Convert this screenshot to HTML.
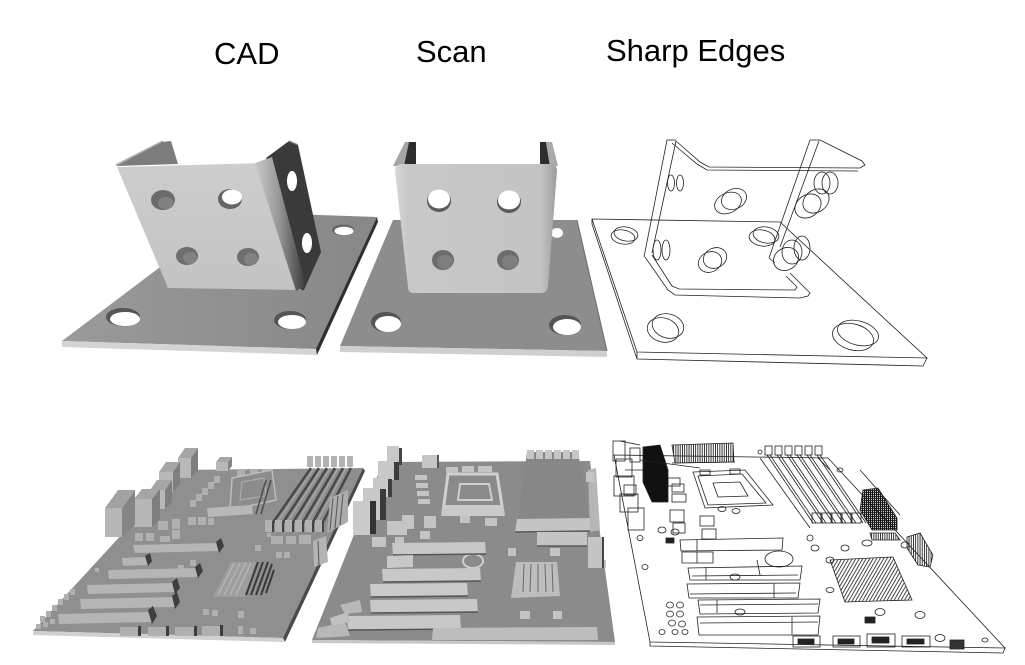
<!DOCTYPE html>
<html><head><meta charset="utf-8">
<style>html,body{margin:0;padding:0;background:#fff}svg{display:block}</style>
</head><body>
<svg xmlns="http://www.w3.org/2000/svg" width="1025" height="665" viewBox="0 0 1025 665">
<defs>
<linearGradient id="gPlate" x1="0" y1="0" x2="1" y2="0"><stop offset="0" stop-color="#9a9a9a"/><stop offset="1" stop-color="#878787"/></linearGradient>
<linearGradient id="gBend" x1="0" y1="0" x2="1" y2="0"><stop offset="0" stop-color="#c9c9c9"/><stop offset="0.45" stop-color="#9a9a9a"/><stop offset="1" stop-color="#3a3a3a"/></linearGradient>
<linearGradient id="gFront" x1="0" y1="0" x2="0" y2="1"><stop offset="0" stop-color="#cdcdcd"/><stop offset="1" stop-color="#c3c3c3"/></linearGradient>
<linearGradient id="gScanF" x1="0" y1="0" x2="1" y2="0"><stop offset="0" stop-color="#d6d6d6"/><stop offset="0.08" stop-color="#c8c8c8"/><stop offset="0.9" stop-color="#c4c4c4"/><stop offset="1" stop-color="#9c9c9c"/></linearGradient>
<pattern id="hv" width="2.2" height="6" patternUnits="userSpaceOnUse"><rect width="0.9" height="6" fill="#222"/></pattern>
<pattern id="hd" width="3" height="3" patternUnits="userSpaceOnUse" patternTransform="rotate(30)"><rect width="0.9" height="3" fill="#333"/></pattern>
<pattern id="hx" width="2" height="2" patternUnits="userSpaceOnUse"><rect width="1.2" height="2" fill="#111"/><rect width="2" height="0.8" fill="#111"/></pattern>
</defs>
<rect width="1025" height="665" fill="#fff"/>

<g font-family="'Liberation Sans', Arial, sans-serif" font-size="31" fill="#000">
<text x="214" y="64">CAD</text>
<text x="416" y="62">Scan</text>
<text x="606" y="61">Sharp Edges</text>
</g>

<!-- CAD bracket -->
<polygon points="62,341 316,349 377,217 233,212" fill="url(#gPlate)"/>
<polygon points="62,341 316,349 317,355 62,347" fill="#d4d4d4"/>
<polygon points="316,349 377,217 378,222 317,355" fill="#2f2f2f"/>
<ellipse cx="123" cy="317" rx="17" ry="9" fill="#555"/>
<ellipse cx="125" cy="319" rx="15" ry="7" fill="#fff"/>
<ellipse cx="290" cy="320" rx="16" ry="9" fill="#555"/>
<ellipse cx="292" cy="322" rx="14" ry="7" fill="#fff"/>
<ellipse cx="343" cy="230" rx="11" ry="5.5" fill="#666"/>
<ellipse cx="344" cy="231" rx="9.5" ry="4.2" fill="#fff"/>
<polygon points="116,166 162,142 171,141 178,164" fill="#7c7c7c"/>
<line x1="116" y1="165" x2="163" y2="141" stroke="#a8a8a8" stroke-width="1.5"/>
<polygon points="266,158 289,141 298,145 321,252 304,290 296,290" fill="#3a3a3a"/>
<line x1="289" y1="141" x2="298" y2="145" stroke="#888" stroke-width="1.5"/>
<polygon points="117,167 262,163 301,290 168,288" fill="url(#gFront)"/>
<polygon points="255,163 272,157 306,286 296,291" fill="url(#gBend)"/>
<ellipse cx="163" cy="200" rx="12" ry="10" fill="#6b6b6b"/>
<ellipse cx="166" cy="203" rx="8" ry="6" fill="#808080"/>
<ellipse cx="230" cy="199" rx="12" ry="10" fill="#666"/>
<ellipse cx="232" cy="197" rx="10" ry="7.5" fill="#fff"/>
<ellipse cx="187" cy="256" rx="11" ry="9" fill="#6e6e6e"/>
<ellipse cx="190" cy="258" rx="7" ry="6" fill="#828282"/>
<ellipse cx="248" cy="257" rx="11" ry="9" fill="#6e6e6e"/>
<ellipse cx="251" cy="259" rx="7" ry="6" fill="#828282"/>
<ellipse cx="292" cy="181" rx="5" ry="10" fill="#fff"/>
<ellipse cx="307" cy="243" rx="5" ry="10" fill="#fff"/>

<!-- Scan bracket -->
<polygon points="340,346 607,351 577,220 393,220" fill="#8d8d8d"/>
<polygon points="340,346 607,351 607,357 340,352" fill="#cfcfcf"/>
<line x1="577" y1="220" x2="607" y2="351" stroke="#6a6a6a" stroke-width="1"/>
<ellipse cx="386" cy="322" rx="15" ry="10" fill="#555"/>
<ellipse cx="388" cy="324" rx="13" ry="8" fill="#fff"/>
<ellipse cx="565" cy="325" rx="16" ry="10" fill="#555"/>
<ellipse cx="567" cy="327" rx="14" ry="8" fill="#fff"/>
<ellipse cx="557" cy="233" rx="6" ry="5" fill="#fff"/>
<polygon points="393,166 405,142 410,142 404,166" fill="#a5a5a5"/>
<polygon points="409,142 416,142 416,166 404,166" fill="#2e2e2e"/>
<polygon points="540,142 546,142 550,166 540,166" fill="#2e2e2e"/>
<polygon points="546,142 552,142 558,166 550,166" fill="#aaaaaa"/>
<path d="M395,171 Q395,164 402,164 L551,164 Q557,164 557,171 L548,287 Q547,293 541,293 L414,293 Q408,293 408,287 Z" fill="url(#gScanF)"/>
<ellipse cx="439" cy="201" rx="12" ry="11" fill="#5a5a5a"/>
<ellipse cx="439" cy="199" rx="11" ry="9.5" fill="#fff"/>
<ellipse cx="509" cy="202" rx="12" ry="11" fill="#5a5a5a"/>
<ellipse cx="509" cy="200" rx="11" ry="9.5" fill="#fff"/>
<ellipse cx="443" cy="260" rx="11" ry="10" fill="#6c6c6c"/>
<ellipse cx="445" cy="262" rx="8" ry="7" fill="#7e7e7e"/>
<ellipse cx="508" cy="260" rx="11" ry="10" fill="#6c6c6c"/>
<ellipse cx="510" cy="262" rx="8" ry="7" fill="#7e7e7e"/>

<!-- Sharp edges bracket -->
<g fill="none" stroke="#222" stroke-width="0.8">
<polygon points="592,219 780,222 927,358 637,352"/>
<polyline points="592,219 592,224 637,359 923,366 927,358"/>
<line x1="637" y1="352" x2="637" y2="359"/>
<line x1="667" y1="140" x2="676" y2="140"/>
<line x1="667" y1="140" x2="644" y2="257"/>
<line x1="676" y1="141" x2="652" y2="253"/>
<polyline points="645,257 668,290 675,295 800,298 808,296 810,293 800,283 790,273"/>
<polyline points="652,255 672,286 679,289 795,290 797,287 786,276"/>
<polyline points="676,141 700,162 709,167 860,168 865,165 862,161 820,140"/>
<polyline points="672,143 697,164 707,170 858,171"/>
<line x1="810" y1="140" x2="820" y2="140"/>
<line x1="810" y1="140" x2="769" y2="258"/>
<line x1="819" y1="141" x2="780" y2="247"/>
<line x1="769" y1="258" x2="775" y2="263"/>
<ellipse cx="671" cy="183" rx="3.5" ry="8"/>
<ellipse cx="680" cy="183" rx="3.5" ry="8"/>
<ellipse cx="728" cy="203" rx="14" ry="10" transform="rotate(-25 728 203)"/>
<ellipse cx="734" cy="199" rx="13" ry="10" transform="rotate(-25 734 199)"/>
<ellipse cx="808" cy="206" rx="14" ry="11" transform="rotate(-35 808 206)"/>
<ellipse cx="816" cy="201" rx="14" ry="11" transform="rotate(-35 816 201)"/>
<ellipse cx="822" cy="183" rx="8" ry="11"/>
<ellipse cx="830" cy="183" rx="8" ry="11"/>
<ellipse cx="623" cy="237" rx="12" ry="7" transform="rotate(10 623 237)"/>
<ellipse cx="626" cy="234" rx="12" ry="7" transform="rotate(10 626 234)"/>
<ellipse cx="762" cy="238" rx="13" ry="8" transform="rotate(10 762 238)"/>
<ellipse cx="766" cy="235" rx="13" ry="8" transform="rotate(10 766 235)"/>
<ellipse cx="657" cy="250" rx="4" ry="10"/>
<ellipse cx="666" cy="250" rx="4" ry="10"/>
<ellipse cx="710" cy="262" rx="12" ry="10" transform="rotate(-25 710 262)"/>
<ellipse cx="715" cy="258" rx="12" ry="10" transform="rotate(-25 715 258)"/>
<ellipse cx="786" cy="259" rx="13" ry="11" transform="rotate(-30 786 259)"/>
<ellipse cx="792" cy="252" rx="10" ry="12"/>
<ellipse cx="802" cy="248" rx="8" ry="12"/>
<ellipse cx="663" cy="330" rx="16" ry="12" transform="rotate(15 663 330)"/>
<ellipse cx="668" cy="326" rx="16" ry="12" transform="rotate(15 668 326)"/>
<ellipse cx="853" cy="337" rx="21" ry="13" transform="rotate(15 853 337)"/>
<ellipse cx="858" cy="333" rx="21" ry="12" transform="rotate(15 858 333)"/>
</g>

<!-- CAD motherboard -->
<polygon points="33,631 283,638 363,468 181,470" fill="#8f8f8f"/>
<polygon points="33,631 283,638 284,642 33,635" fill="#d0d0d0"/>
<polygon points="283,638 363,468 365,471 285,642" fill="#4a4a4a"/>
<g>
<polygon points="216,462 220,457 232,457 228,462" fill="#a6a6a6"/><rect x="216" y="462" width="12" height="9" fill="#b8b8b8"/><polygon points="228,462 232,457 232,466 228,471" fill="#858585"/>
<polygon points="178,458 185,448 198,448 191,458" fill="#a6a6a6"/><rect x="178" y="458" width="13" height="20" fill="#b8b8b8"/><polygon points="191,458 198,448 198,470 191,478" fill="#7e7e7e"/>
<polygon points="159,472 166,462 180,462 173,472" fill="#a6a6a6"/><rect x="159" y="472" width="14" height="20" fill="#b8b8b8"/><polygon points="173,472 180,462 180,484 173,492" fill="#7e7e7e"/>
<polygon points="150,490 157,480 172,480 165,490" fill="#a6a6a6"/><rect x="150" y="490" width="15" height="19" fill="#b8b8b8"/><polygon points="165,490 172,480 172,502 165,509" fill="#7e7e7e"/>
<polygon points="134,499 142,489 160,489 152,499" fill="#a6a6a6"/><rect x="134" y="499" width="18" height="28" fill="#b6b6b6"/><polygon points="152,499 160,489 160,519 152,527" fill="#7e7e7e"/>
<polygon points="105,508 118,490 135,490 122,508" fill="#a2a2a2"/><rect x="105" y="508" width="17" height="29" fill="#b6b6b6"/><polygon points="122,508 135,490 135,525 122,537" fill="#858585"/>
</g>
<g fill="#b0b0b0">
<rect x="135" y="533" width="8" height="8"/><rect x="146" y="533" width="8" height="8"/><rect x="160" y="536" width="10" height="6"/><rect x="172" y="530" width="8" height="9"/>
<rect x="158" y="521" width="10" height="9"/><rect x="172" y="519" width="8" height="10"/>
<rect x="190" y="500" width="6" height="7"/><rect x="196" y="494" width="6" height="7"/><rect x="202" y="488" width="6" height="7"/><rect x="208" y="482" width="6" height="7"/><rect x="214" y="476" width="6" height="7"/>
<rect x="188" y="517" width="8" height="8"/><rect x="198" y="517" width="8" height="8"/><rect x="208" y="518" width="6" height="7"/>
<rect x="237" y="469" width="8" height="8"/><rect x="250" y="469" width="8" height="8"/><rect x="262" y="469" width="8" height="8"/>
<rect x="271" y="536" width="12" height="8"/><rect x="286" y="536" width="10" height="8"/><rect x="299" y="535" width="12" height="9"/>
<rect x="276" y="552" width="6" height="6"/><rect x="284" y="552" width="6" height="6"/>
<rect x="40" y="616" width="5" height="6"/><rect x="46" y="611" width="5" height="6"/><rect x="52" y="605" width="5" height="6"/><rect x="58" y="599" width="5" height="6"/><rect x="64" y="594" width="5" height="6"/><rect x="70" y="589" width="5" height="6"/>
<rect x="36" y="624" width="5" height="5"/><rect x="43" y="622" width="5" height="5"/><rect x="50" y="619" width="5" height="5"/>
<rect x="203" y="609" width="6" height="6"/><rect x="212" y="610" width="6" height="6"/><rect x="238" y="611" width="6" height="7"/>
<rect x="238" y="626" width="5" height="8"/><rect x="250" y="628" width="6" height="6"/><rect x="267" y="533" width="4" height="4"/>
<rect x="178" y="565" width="6" height="6"/><rect x="190" y="560" width="6" height="6"/><rect x="255" y="545" width="6" height="6"/><rect x="95" y="568" width="4" height="4"/>
</g>
<polygon points="232,478 272,470 276,500 230,510" fill="#8c8c8c" stroke="#bdbdbd" stroke-width="1.5"/>
<polygon points="242,482 264,478 266,496 240,500" fill="none" stroke="#b0b0b0" stroke-width="1"/>
<polygon points="207,508 252,505 253,514 208,517" fill="#b8b8b8"/>
<line x1="266" y1="480" x2="256" y2="514" stroke="#4c4c4c" stroke-width="1.5"/>
<line x1="271" y1="480" x2="261" y2="514" stroke="#4c4c4c" stroke-width="1.5"/>
<g>
<rect x="307" y="456" width="6" height="11" fill="#b4b4b4"/><rect x="315" y="456" width="6" height="11" fill="#b4b4b4"/><rect x="323" y="456" width="6" height="11" fill="#b4b4b4"/><rect x="331" y="456" width="6" height="11" fill="#b4b4b4"/><rect x="339" y="456" width="6" height="11" fill="#b4b4b4"/><rect x="347" y="456" width="6" height="11" fill="#b4b4b4"/>
<g stroke="#4a4a4a" stroke-width="2.6">
<line x1="311" y1="468" x2="272" y2="524"/><line x1="319" y1="468" x2="282" y2="524"/><line x1="327" y1="468" x2="292" y2="524"/><line x1="335" y1="468" x2="302" y2="524"/><line x1="343" y1="468" x2="312" y2="524"/><line x1="351" y1="468" x2="322" y2="524"/>
</g>
<g stroke="#a8a8a8" stroke-width="1.2">
<line x1="314" y1="468" x2="276" y2="524"/><line x1="322" y1="468" x2="286" y2="524"/><line x1="330" y1="468" x2="296" y2="524"/><line x1="338" y1="468" x2="306" y2="524"/><line x1="346" y1="468" x2="316" y2="524"/>
</g>
<g fill="#b2b2b2"><rect x="265" y="520" width="7" height="12"/><rect x="275" y="520" width="7" height="12"/><rect x="285" y="520" width="7" height="12"/><rect x="295" y="520" width="7" height="12"/><rect x="305" y="520" width="7" height="12"/><rect x="315" y="520" width="7" height="12"/></g>
<g fill="#444"><rect x="272" y="521" width="2" height="11"/><rect x="282" y="521" width="2" height="11"/><rect x="292" y="521" width="2" height="11"/><rect x="302" y="521" width="2" height="11"/><rect x="312" y="521" width="2" height="11"/><rect x="322" y="521" width="2" height="11"/></g>
</g>
<polygon points="330,498 348,490 348,522 327,533" fill="#adadad"/>
<g stroke="#555" stroke-width="1"><line x1="333" y1="498" x2="330" y2="530"/><line x1="338" y1="496" x2="335" y2="528"/><line x1="343" y1="494" x2="340" y2="525"/></g>
<polygon points="313,541 326,536 328,562 314,567" fill="#b4b4b4"/>
<line x1="318" y1="541" x2="319" y2="565" stroke="#555"/>
<polygon points="213,597 245,597 256,562 231,562" fill="#9e9e9e"/>
<g stroke="#b8b8b8" stroke-width="1.2"><line x1="218" y1="595" x2="234" y2="563"/><line x1="224" y1="595" x2="240" y2="563"/><line x1="230" y1="595" x2="246" y2="563"/><line x1="236" y1="595" x2="251" y2="563"/></g>
<g stroke="#3a3a3a" stroke-width="2"><line x1="246" y1="595" x2="258" y2="562"/><line x1="251" y1="595" x2="263" y2="562"/><line x1="256" y1="595" x2="268" y2="562"/><line x1="261" y1="595" x2="272" y2="564"/><line x1="266" y1="593" x2="274" y2="570"/></g>
<g>
<polygon points="133,545 218,543 220,551 135,553" fill="#b5b5b5"/><polygon points="216,542 221,538 224,546 219,553" fill="#3e3e3e"/>
<polygon points="122,558 148,557 149,565 123,566" fill="#b5b5b5"/><polygon points="145,556 150,553 152,561 148,566" fill="#3e3e3e"/>
<polygon points="108,570 197,568 198,577 109,579" fill="#b5b5b5"/><polygon points="195,567 200,563 203,571 198,578" fill="#3e3e3e"/>
<polygon points="87,585 174,583 176,592 88,594" fill="#b5b5b5"/><polygon points="172,582 177,578 180,588 175,594" fill="#3e3e3e"/>
<polygon points="80,599 174,597 176,607 81,609" fill="#b5b5b5"/><polygon points="172,596 177,592 180,602 175,609" fill="#3e3e3e"/>
<polygon points="58,614 150,612 152,622 59,624" fill="#b5b5b5"/><polygon points="148,610 153,606 157,616 152,624" fill="#3e3e3e"/>
</g>
<g fill="#b0b0b0"><rect x="120" y="627" width="20" height="9"/><rect x="148" y="627" width="20" height="9"/><rect x="175" y="627" width="21" height="9"/><rect x="202" y="626" width="20" height="10"/></g>
<g fill="#3e3e3e"><rect x="138" y="626" width="3" height="10"/><rect x="166" y="626" width="3" height="10"/><rect x="194" y="626" width="3" height="10"/><rect x="220" y="625" width="3" height="11"/></g>

<!-- Scan motherboard -->
<polygon points="312,640 615,642 590,461 383,462" fill="#8b8b8b"/>
<polygon points="312,640 615,642 615,645 312,643" fill="#c8c8c8"/>
<polygon points="527,452 578,452 590,520 518,520" fill="#878787"/>
<g fill="#c6c6c6"><rect x="527" y="450" width="7" height="9"/><rect x="536" y="450" width="7" height="9"/><rect x="545" y="450" width="7" height="9"/><rect x="554" y="450" width="7" height="9"/><rect x="563" y="450" width="7" height="9"/><rect x="572" y="450" width="7" height="9"/></g>
<polygon points="517,519 590,518 592,531 515,532" fill="#c4c4c4"/>
<line x1="515" y1="532" x2="592" y2="531" stroke="#5a5a5a" stroke-width="1.5"/>
<polygon points="588,470 596,468 600,530 590,532" fill="#b6b6b6"/>
<g>
<rect x="422" y="455" width="15" height="13" fill="#c6c6c6"/><rect x="437" y="455" width="2" height="13" fill="#555"/>
<rect x="387" y="446" width="12" height="19" fill="#c8c8c8"/><rect x="399" y="448" width="3" height="17" fill="#444"/>
<rect x="378" y="461" width="16" height="19" fill="#c8c8c8"/><rect x="394" y="462" width="5" height="18" fill="#3e3e3e"/>
<rect x="373" y="478" width="15" height="19" fill="#c8c8c8"/><rect x="388" y="479" width="4" height="18" fill="#3e3e3e"/>
<rect x="363" y="488" width="17" height="32" fill="#c8c8c8"/><rect x="380" y="489" width="6" height="31" fill="#3a3a3a"/>
<rect x="353" y="501" width="17" height="34" fill="#cacaca"/><rect x="370" y="501" width="6" height="33" fill="#333"/>
</g>
<polygon points="448,474 497,474 503,512 443,512" fill="#8a8a8a" stroke="#d0d0d0" stroke-width="3"/>
<polygon points="460,484 489,484 492,500 458,500" fill="none" stroke="#cfcfcf" stroke-width="2"/>
<polygon points="443,505 503,505 505,516 441,516" fill="#cacaca"/>
<g fill="#c4c4c4">
<rect x="446" y="467" width="12" height="6"/><rect x="462" y="466" width="12" height="6"/><rect x="478" y="466" width="14" height="6"/>
<rect x="415" y="475" width="12" height="5"/><rect x="416" y="483" width="12" height="5"/><rect x="417" y="491" width="12" height="5"/><rect x="418" y="499" width="12" height="5"/>
<rect x="402" y="515" width="12" height="14"/><rect x="424" y="516" width="12" height="12"/><rect x="387" y="521" width="20" height="14"/>
<rect x="420" y="531" width="10" height="8"/><rect x="460" y="515" width="10" height="8"/><rect x="485" y="518" width="12" height="8"/>
<rect x="508" y="548" width="8" height="8"/><rect x="550" y="548" width="10" height="8"/><rect x="520" y="611" width="10" height="8"/><rect x="553" y="611" width="9" height="8"/>
<rect x="372" y="537" width="14" height="10"/><rect x="395" y="537" width="9" height="8"/>
<rect x="537" y="532" width="50" height="14"/>
<rect x="588" y="537" width="15" height="31"/>
<rect x="586" y="472" width="8" height="10"/><rect x="600" y="560" width="6" height="8"/>
</g>
<line x1="537" y1="546" x2="587" y2="546" stroke="#5a5a5a" stroke-width="1.5"/>
<line x1="603" y1="537" x2="603" y2="568" stroke="#444" stroke-width="2"/>
<ellipse cx="473" cy="561" rx="10" ry="7" fill="#8a8a8a" stroke="#cfcfcf" stroke-width="2"/>
<polygon points="516,562 557,562 560,596 511,598" fill="#bdbdbd"/>
<g stroke="#6a6a6a" stroke-width="1"><line x1="524" y1="564" x2="523" y2="592"/><line x1="531" y1="564" x2="530" y2="592"/><line x1="538" y1="564" x2="538" y2="592"/><line x1="545" y1="564" x2="546" y2="592"/><line x1="552" y1="564" x2="553" y2="592"/></g>
<g>
<polygon points="392,543 485,542 486,554 393,555" fill="#c8c8c8"/><line x1="393" y1="555" x2="486" y2="554" stroke="#555" stroke-width="1.5"/>
<polygon points="387,556 413,555 413,567 387,568" fill="#c8c8c8"/>
<polygon points="382,569 480,568 481,581 383,582" fill="#c8c8c8"/><line x1="383" y1="582" x2="481" y2="581" stroke="#555" stroke-width="1.5"/>
<polygon points="370,584 467,583 468,596 371,597" fill="#cacaca"/><line x1="371" y1="597" x2="468" y2="596" stroke="#555" stroke-width="1.5"/>
<polygon points="370,600 477,599 478,612 371,613" fill="#c8c8c8"/><line x1="371" y1="613" x2="478" y2="612" stroke="#555" stroke-width="1.5"/>
<polygon points="347,616 460,615 461,629 348,630" fill="#c8c8c8"/><line x1="348" y1="630" x2="461" y2="629" stroke="#555" stroke-width="1.5"/>
</g>
<polygon points="433,628 597,627 598,640 432,640" fill="#bdbdbd"/>
<polygon points="318,628 345,622 350,636 316,638" fill="#b8b8b8"/>
<polygon points="340,605 360,600 362,612 345,614" fill="#b8b8b8"/>
<polygon points="330,618 348,612 350,622 332,626" fill="#c0c0c0"/>

<!-- Sharp edges motherboard -->
<g fill="none" stroke="#222" stroke-width="0.8">
<polygon points="614,455 828,458 1005,648 650,642" fill="#fff"/>
<polyline points="650,642 650,646 1003,653 1005,648"/>
<rect x="613" y="441" width="12" height="20"/>
<rect x="616" y="459" width="16" height="18"/>
<rect x="614" y="476" width="20" height="20"/>
<rect x="620" y="494" width="18" height="18"/>
<rect x="628" y="508" width="16" height="22"/>
<rect x="630" y="448" width="10" height="14"/><rect x="624" y="485" width="12" height="10"/>
<line x1="620" y1="441" x2="640" y2="445"/><line x1="625" y1="470" x2="645" y2="470"/>
<polygon points="643,447 660,445 668,470 668,502 652,502 643,482" fill="#111"/>
<polygon points="672,445 733,443 734,462 675,463" fill="url(#hv)"/>
<line x1="672" y1="463" x2="735" y2="462"/>
<polygon points="693,472 745,470 773,505 705,508"/>
<polygon points="698,476 742,474 766,503 708,505"/>
<polygon points="713,483 740,482 748,496 718,497"/>
<rect x="700" y="470" width="10" height="5"/><rect x="730" y="469" width="10" height="5"/>
<rect x="668" y="478" width="12" height="8"/><rect x="672" y="494" width="14" height="8"/><rect x="672" y="484" width="12" height="8"/>
<rect x="670" y="510" width="14" height="12"/><rect x="673" y="523" width="12" height="10"/>
<rect x="700" y="516" width="14" height="10"/><rect x="702" y="529" width="14" height="10"/>
<rect x="666" y="538" width="8" height="5" fill="#222"/>
<g>
<rect x="765" y="446" width="7" height="9"/><rect x="775" y="446" width="7" height="9"/><rect x="785" y="446" width="7" height="9"/><rect x="795" y="446" width="7" height="9"/><rect x="805" y="446" width="7" height="9"/><rect x="815" y="446" width="7" height="9"/>
<line x1="767" y1="455" x2="813" y2="523"/><line x1="770" y1="455" x2="816" y2="523"/>
<line x1="777" y1="455" x2="823" y2="523"/><line x1="780" y1="455" x2="826" y2="523"/>
<line x1="787" y1="455" x2="833" y2="523"/><line x1="790" y1="455" x2="836" y2="523"/>
<line x1="797" y1="455" x2="843" y2="523"/><line x1="800" y1="455" x2="846" y2="523"/>
<line x1="807" y1="455" x2="853" y2="523"/><line x1="810" y1="455" x2="856" y2="523"/>
<line x1="817" y1="455" x2="863" y2="523"/><line x1="820" y1="455" x2="866" y2="523"/>
<line x1="760" y1="458" x2="810" y2="528"/>
<rect x="812" y="513" width="9" height="10"/><rect x="822" y="513" width="9" height="10"/><rect x="832" y="513" width="9" height="10"/><rect x="842" y="513" width="9" height="10"/><rect x="852" y="513" width="9" height="10"/>
</g>
<polygon points="863,490 878,488 897,518 897,530 872,530 860,510" fill="url(#hx)"/>
<polygon points="870,533 895,533 900,540 872,540" fill="url(#hv)"/>
<polygon points="907,537 920,533 933,555 930,567 918,565 907,548" fill="url(#hv)"/>
<polygon points="680,540 783,538 782,550 681,551"/><line x1="697" y1="540" x2="697" y2="551"/>
<polygon points="682,552 713,552 713,563 682,563"/><line x1="697" y1="552" x2="697" y2="563"/>
<polygon points="688,568 802,566 800,580 690,580"/><line x1="706" y1="567" x2="706" y2="580"/><line x1="692" y1="576" x2="798" y2="575"/>
<polygon points="687,584 800,583 798,598 689,598"/><line x1="774" y1="584" x2="774" y2="598"/><line x1="690" y1="594" x2="796" y2="593"/>
<polygon points="698,600 820,599 818,613 700,614"/><line x1="717" y1="600" x2="717" y2="613"/><line x1="700" y1="605" x2="818" y2="604"/>
<polygon points="697,617 820,616 818,635 699,635"/><line x1="792" y1="617" x2="792" y2="635"/><line x1="700" y1="623" x2="818" y2="622"/>
<polygon points="830,560 893,557 912,600 845,602" fill="url(#hd)"/>
<ellipse cx="779" cy="559" rx="14" ry="8"/>
<rect x="793" y="636" width="27" height="11"/><rect x="798" y="639" width="16" height="5" fill="#222"/>
<rect x="833" y="636" width="27" height="11"/><rect x="838" y="639" width="16" height="5" fill="#222"/>
<rect x="867" y="634" width="28" height="13"/><rect x="872" y="637" width="17" height="6" fill="#222"/>
<rect x="902" y="636" width="28" height="11"/><rect x="907" y="639" width="17" height="5" fill="#222"/>
<rect x="950" y="640" width="14" height="9" fill="#333"/>
<rect x="865" y="617" width="10" height="6" fill="#222"/>
<ellipse cx="640" cy="538" rx="3" ry="2.5"/><ellipse cx="645" cy="567" rx="3" ry="2.5"/><ellipse cx="662" cy="530" rx="4" ry="3"/><ellipse cx="675" cy="532" rx="4" ry="3"/>
<ellipse cx="810" cy="538" rx="3" ry="3"/><ellipse cx="815" cy="548" rx="4" ry="3"/><ellipse cx="830" cy="560" rx="4" ry="3"/><ellipse cx="867" cy="543" rx="5" ry="3"/>
<ellipse cx="880" cy="612" rx="5" ry="3.5"/><ellipse cx="920" cy="615" rx="5" ry="3.5"/><ellipse cx="940" cy="638" rx="5" ry="3.5"/><ellipse cx="662" cy="632" rx="3" ry="2.5"/>
<ellipse cx="670" cy="605" rx="3.5" ry="3"/><ellipse cx="680" cy="605" rx="3.5" ry="3"/><ellipse cx="670" cy="614" rx="3.5" ry="3"/><ellipse cx="680" cy="614" rx="3.5" ry="3"/><ellipse cx="672" cy="623" rx="3.5" ry="3"/><ellipse cx="682" cy="624" rx="3.5" ry="3"/><ellipse cx="675" cy="632" rx="3" ry="2.5"/><ellipse cx="685" cy="632" rx="3" ry="2.5"/>
<ellipse cx="736" cy="511" rx="4" ry="2.5"/><ellipse cx="722" cy="509" rx="4" ry="2.5"/><ellipse cx="735" cy="577" rx="5" ry="3"/><ellipse cx="740" cy="612" rx="5" ry="3"/><ellipse cx="845" cy="548" rx="4" ry="3"/>
<ellipse cx="840" cy="470" rx="3" ry="2"/><ellipse cx="760" cy="452" rx="2" ry="2"/><ellipse cx="985" cy="640" rx="3" ry="2"/>
<ellipse cx="830" cy="590" rx="4" ry="2.5"/><ellipse cx="905" cy="545" rx="4" ry="3"/>
<line x1="640" y1="460" x2="700" y2="468"/><line x1="818" y1="458" x2="830" y2="470"/>
<line x1="860" y1="470" x2="900" y2="515"/><line x1="757" y1="560" x2="760" y2="575"/>
</g>
</svg>
</body></html>
